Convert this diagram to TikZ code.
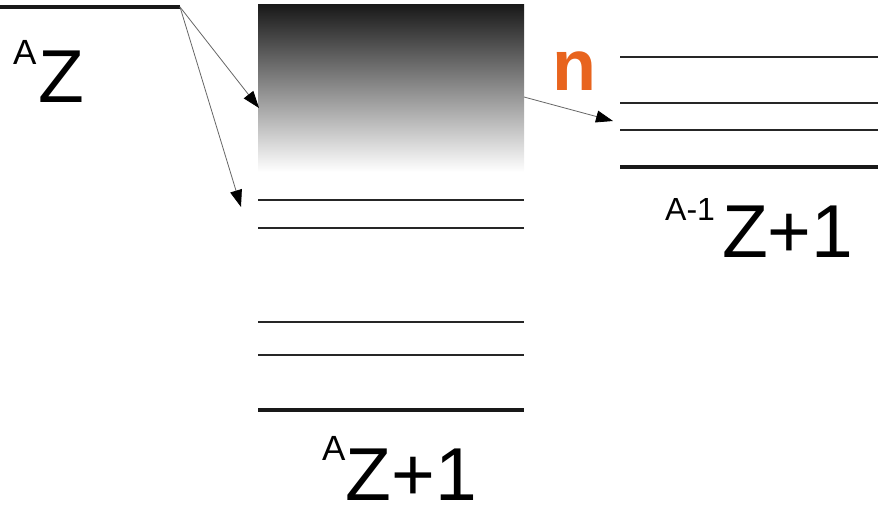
\documentclass[tikz,border=0pt]{standalone}
\usepackage{fontspec}
\setmainfont{Liberation Sans}
\usetikzlibrary{arrows.meta}
\definecolor{norange}{HTML}{E8641E}
\tikzset{
  thin level/.style={line width=1.3pt, black!85},
  thick level/.style={line width=4.5pt, black!90},
  trans/.style={line width=0.8pt, black!60, -{Triangle[length=17pt,width=12pt,black]}},
  big/.style={inner sep=0pt, font=\fontsize{75}{75}\selectfont},
}
\begin{document}
\begin{tikzpicture}[x=1pt,y=-1pt]
\useasboundingbox (0,0) rectangle (878,510);
% ground state of parent
\coordinate (p0) at (0,7);
\coordinate (p1) at (180,7);
\draw[thick level] (p0) -- (p1);
\node[big, anchor=base west] (parent) at (13,103) {\raisebox{38pt}{\fontsize{35}{35}\selectfont A}\kern2pt Z};
% continuum (shaded)
\shade[top color=black!90, bottom color=white] (258,5) rectangle (524,172);
\coordinate (cont) at (259,108);
\coordinate (contout) at (524,97);
% daughter levels
\foreach \y/\n in {200/d1,228/d2,322/d3,355/d4}{
  \coordinate (\n a) at (258,\y); \coordinate (\n b) at (524,\y);
  \draw[thin level] (\n a) -- (\n b);
}
\coordinate (d0a) at (258,410); \coordinate (d0b) at (524,410);
\draw[thick level] (d0a) -- (d0b);
\coordinate (d1in) at (241,207);
\node[big, anchor=base west] (daughter) at (322,500) {\raisebox{40pt}{\fontsize{35}{35}\selectfont A}Z+1};
% final nucleus levels
\foreach \y/\n in {57/f1,103/f2,130/f3}{
  \coordinate (\n a) at (620,\y); \coordinate (\n b) at (878,\y);
  \draw[thin level] (\n a) -- (\n b);
}
\coordinate (f0a) at (620,167); \coordinate (f0b) at (878,167);
\draw[thick level] (f0a) -- (f0b);
\coordinate (fin) at (613,121);
\node[big, anchor=base west] (final) at (665,258) {\raisebox{37pt}{\fontsize{32}{32}\selectfont A-1}\kern7pt Z+1};
% transitions
\draw[trans] (p1) -- (cont);
\draw[trans] (p1) -- (d1in);
\draw[trans] (contout) -- (fin);
\node[inner sep=0pt, anchor=base west, text=norange, font=\fontsize{72}{72}\selectfont\bfseries] (n) at (552,91) {n};
\end{tikzpicture}
\end{document}
